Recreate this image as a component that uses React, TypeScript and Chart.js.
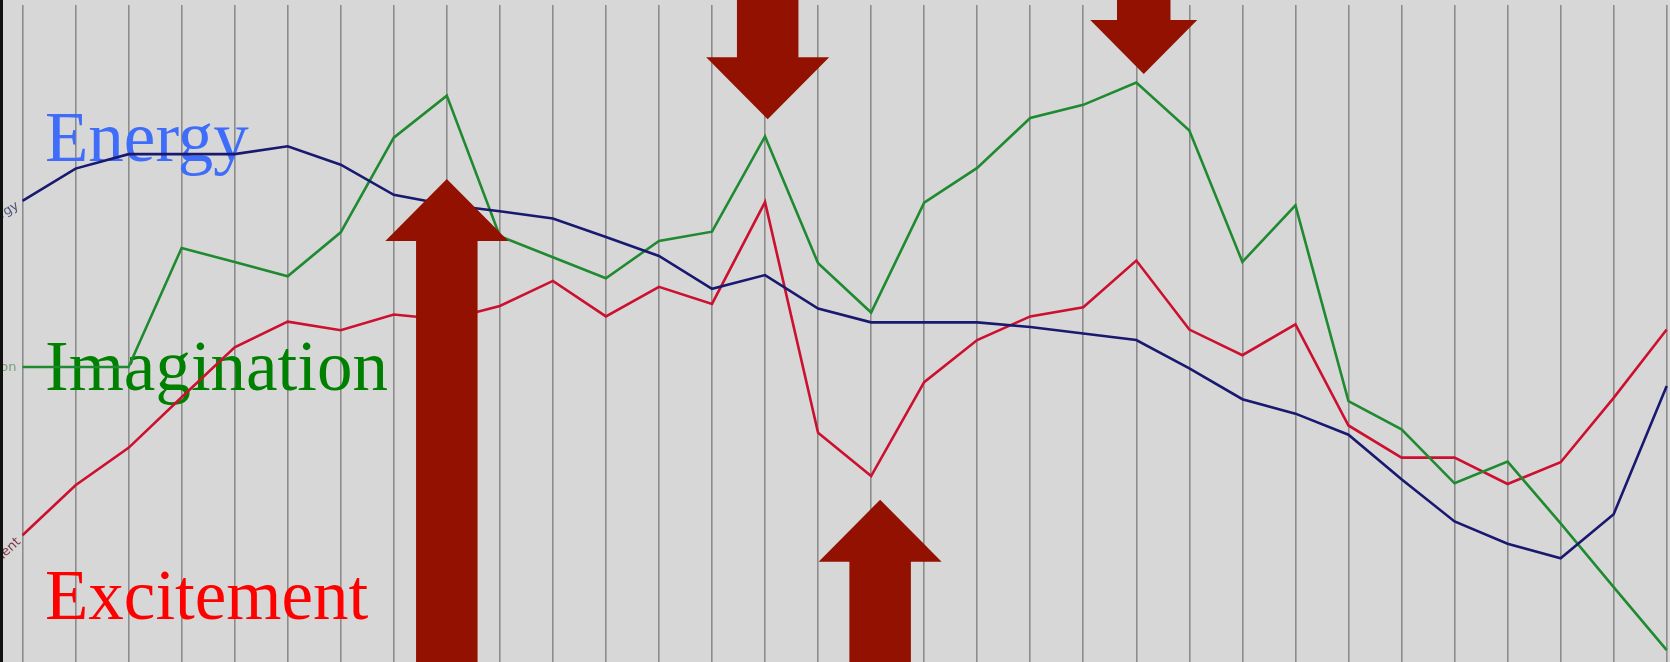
import React, { useEffect, useRef } from "react";
import { Chart, registerables } from "chart.js";

Chart.register(...registerables);

// ---- data ----
const categories = [
  "1", "2", "3", "4", "5", "6", "7", "8", "9", "10", "11", "12", "13", "14", "15", "16",
  "17", "18", "19", "20", "21", "22", "23", "24", "25", "26", "27", "28", "29", "30", "31", "32",
];
const energy = [
  70.2, 75.1, 77.3, 77.3, 77.3, 78.5, 75.7, 71.1, 69.6, 68.6, 67.5, 64.7, 61.8, 56.8, 58.9, 53.8,
  51.7, 51.7, 51.7, 51.0, 50.0, 49.0, 44.7, 40.0, 37.8, 34.6, 27.8, 21.4, 18.0, 15.8, 22.5, 42.0,
];
const imagination = [
  44.9, 44.9, 44.9, 63.0, 60.9, 58.7, 65.4, 79.8, 86.2, 64.8, 61.6, 58.4, 64.1, 65.5, 80.0, 60.7,
  53.2, 69.9, 75.2, 82.8, 84.8, 88.2, 80.9, 60.9, 69.5, 39.7, 35.4, 27.2, 30.5, 21.1, 11.4, 1.8,
];
const excitement = [
  19.3, 26.9, 32.6, 40.3, 47.9, 51.8, 50.5, 52.9, 52.1, 54.2, 58.0, 52.6, 57.1, 54.5, 70.0, 34.9,
  28.3, 42.6, 49.0, 52.6, 54.0, 61.1, 50.6, 46.7, 51.4, 36.0, 31.1, 31.1, 27.1, 30.4, 40.2, 50.6,
];
const seriesNames = ["Energy", "Imagination", "Excitement"];
// arrow annotations: category position (fractional index), tip value, direction
const arrowAt = [8, 14.05, 16.17, 21.14];
const arrowTip = [73.5, 82.6, 24.7, 89.5];
const arrowDir = ["up", "down", "up", "down"];

// ---- styles ----
const lineColors = ["#191970", "#1f8a30", "#cc1030"];
const titleColors = ["#3f6dfa", "#008000", "#ff0000"];
const smallLabelColors = ["#4c5478", "#7aa07c", "#7a3a44"];
const arrowScale = [1, 1, 1, 0.87];
const arrowColor = "#921100";

const overlayPlugin = {
  id: "overlay",
  beforeDatasetsDraw(chart: any) {
    const ctx = chart.ctx;
    const area = chart.chartArea;
    ctx.save();
    ctx.font = '71px "Liberation Serif", "Times New Roman", serif';
    ctx.textAlign = "left";
    ctx.textBaseline = "alphabetic";
    const baselines = [161, 390, 619];
    seriesNames.forEach((name, i) => {
      ctx.fillStyle = titleColors[i];
      ctx.fillText(name, area.left + 22.5, baselines[i]);
    });
    ctx.restore();
  },
  afterDatasetsDraw(chart: any) {
    const ctx = chart.ctx;
    const xs = chart.scales.x;
    const ys = chart.scales.y;
    // small rotated series labels at line start
    ctx.save();
    ctx.font = '13px "DejaVu Sans", sans-serif';
    ctx.textAlign = "right";
    ctx.textBaseline = "middle";
    chart.data.datasets.forEach((ds: any, i: number) => {
      const meta = chart.getDatasetMeta(i);
      const p0 = meta.data[0];
      const p1 = meta.data[1];
      const ang = Math.atan2(p1.y - p0.y, p1.x - p0.x);
      ctx.save();
      ctx.translate(p0.x, p0.y);
      ctx.rotate(ang);
      ctx.fillStyle = smallLabelColors[i];
      ctx.fillText(ds.label, -6, 1);
      ctx.restore();
    });
    ctx.restore();

    // block arrows
    const xAt = (v: number) => {
      const i0 = Math.floor(v);
      const f = v - i0;
      const a = xs.getPixelForValue(i0);
      const b = xs.getPixelForValue(i0 + 1);
      return a + (b - a) * f;
    };
    ctx.save();
    ctx.fillStyle = arrowColor;
    arrowAt.forEach((pos, i) => {
      const s = arrowScale[i];
      const x = xAt(pos);
      const tip = ys.getPixelForValue(arrowTip[i]);
      const hh = 62 * s;
      const hw = (123 * s) / 2;
      const sw = (61.5 * s) / 2;
      const up = arrowDir[i] === "up";
      const base = up ? tip + hh : tip - hh;
      const end = up ? chart.height + 5 : -5;
      ctx.beginPath();
      ctx.moveTo(x, tip);
      ctx.lineTo(x + hw, base);
      ctx.lineTo(x + sw, base);
      ctx.lineTo(x + sw, end);
      ctx.lineTo(x - sw, end);
      ctx.lineTo(x - sw, base);
      ctx.lineTo(x - hw, base);
      ctx.closePath();
      ctx.fill();
    });
    ctx.restore();
  },
};

function LineChart() {
  const ref = useRef<HTMLCanvasElement>(null);
  useEffect(() => {
    if (!ref.current) return;
    const series = [energy, imagination, excitement];
    const chart = new Chart(ref.current, {
      type: "line",
      data: {
        labels: categories,
        datasets: series.map((d, i) => ({
          label: seriesNames[i],
          data: d,
          borderColor: lineColors[i],
          borderWidth: 2.6,
          pointRadius: 0,
          tension: 0,
          fill: false,
        })),
      },
      options: {
        animation: false,
        responsive: true,
        maintainAspectRatio: false,
        layout: { padding: { left: 22.5, right: 3.3, top: 5, bottom: 0 } },
        plugins: { legend: { display: false }, tooltip: { enabled: false } },
        scales: {
          x: {
            type: "category",
            offset: false,
            border: { display: false },
            grid: { color: "#8c8c8c", lineWidth: 1.6, drawTicks: false },
            ticks: { display: false },
          },
          y: {
            display: false,
            min: 0,
            max: 100,
          },
        },
      },
      plugins: [overlayPlugin],
    });
    return () => chart.destroy();
  }, []);
  return <canvas ref={ref} />;
}

export default function App() {
  return (
    <div
      style={{
        position: "fixed",
        left: 0,
        top: 0,
        width: 1670,
        height: 662,
        background: "#d7d7d7",
        overflow: "hidden",
      }}
    >
      <LineChart />
      <div
        style={{
          position: "absolute",
          left: 0,
          top: 0,
          width: 3,
          height: 662,
          background: "#111111",
        }}
      />
    </div>
  );
}
